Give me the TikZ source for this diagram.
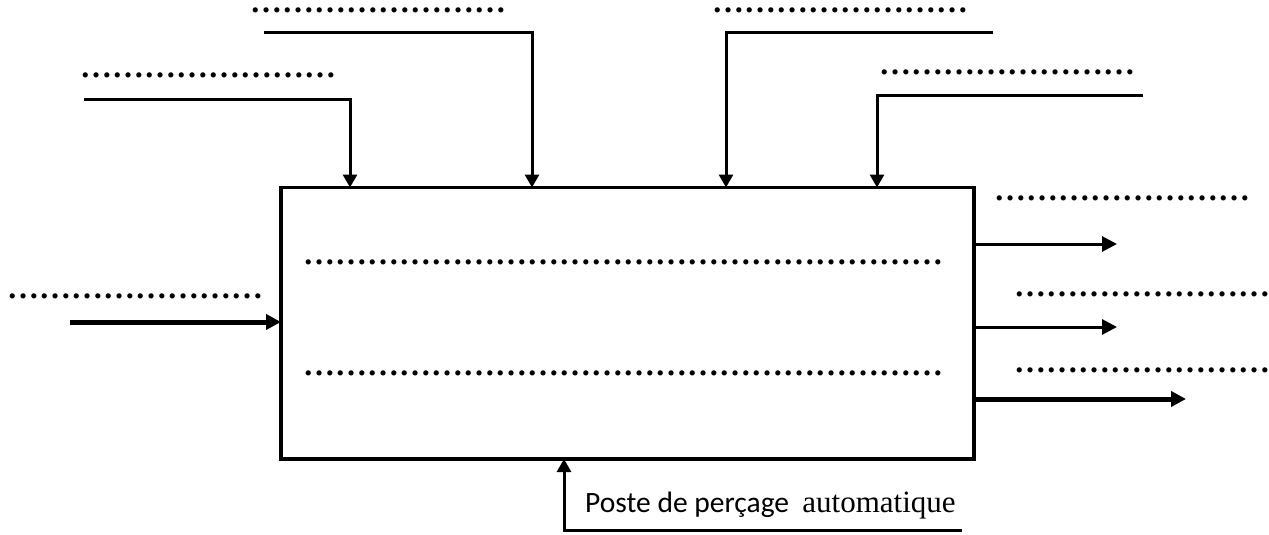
\documentclass[tikz,border=0pt]{standalone}
\usepackage{fontspec}
\setmainfont{Liberation Serif}
\newfontfamily\calfont{Carlito}
\usetikzlibrary{arrows.meta}
\newcommand\myells[1]{\foreach \ii in {1,...,#1}{…}}
\tikzset{
  frame/.style={draw,line width=3.2pt,minimum width=693pt,minimum height=271.5pt,inner sep=0pt,outer sep=0pt},
  ctrl/.style={line width=3pt,-{Triangle[length=13pt,width=14pt]}},
  outarrow/.style={line width=3pt,-{Triangle[length=15pt,width=15pt]}},
  thickarrow/.style={line width=5pt,-{Triangle[length=15pt,width=15pt]}},
  dotrow/.style={anchor=base west,inner sep=0pt,font=\fontsize{32}{32}\selectfont\bfseries},
  lbl/.style={anchor=base west,inner sep=0pt}
}
\begin{document}
\begin{tikzpicture}[x=1pt,y=-1pt]
\useasboundingbox (0,0) rectangle (1269,535);
% main box
\node[frame] (box) at (627.5,323.25) {};
% placeholder texts
\node[dotrow] (tA) at (80,77.6) {\myells{8}};
\node[dotrow] (tB) at (250,12.6) {\myells{8}};
\node[dotrow] (tC) at (712,12.6) {\myells{8}};
\node[dotrow] (tD) at (879,74.6) {\myells{8}};
\node[dotrow] (tE) at (7,298.6) {\myells{8}};
\node[dotrow] (tF) at (994,200.6) {\myells{8}};
\node[dotrow] (tG) at (1014,296.6) {\myells{8}};
\node[dotrow] (tH) at (1014,372.6) {\myells{8}};
\node[dotrow] (tI1) at (303,264.6) {\myells{20}};
\node[dotrow] (tI2) at (303,375.6) {\myells{20}};
% control arrows
\coordinate (cA) at (84,99);   \coordinate (kA) at (350,0);
\coordinate (cB) at (264,33);  \coordinate (kB) at (532,0);
\coordinate (cC) at (993,33);  \coordinate (kC) at (726,0);
\coordinate (cD) at (1143,95); \coordinate (kD) at (877,0);
\draw[ctrl] (cA) -| (kA |- box.north);
\draw[ctrl] (cB) -| (kB |- box.north);
\draw[ctrl] (cC) -| (kC |- box.north);
\draw[ctrl] (cD) -| (kD |- box.north);
% input
\coordinate (iE) at (70,322);
\draw[thickarrow] (iE) -- (iE -| box.west);
% outputs
\coordinate (oF) at (1117,244);
\coordinate (oG) at (1117,327);
\coordinate (oH) at (1186,399);
\draw[outarrow] (oF -| box.east) -- (oF);
\draw[outarrow] (oG -| box.east) -- (oG);
\draw[thickarrow] (oH -| box.east) -- (oH);
% mechanism
\coordinate (mS) at (962,530);
\coordinate (mK) at (564,0);
\draw[ctrl] (mS) -| (mK |- box.south);
\node[lbl] (mech) at (585,512) {{\calfont\fontsize{29.5}{34}\selectfont Poste de perçage\ \ }{\fontsize{31}{36}\selectfont automatique}};
\end{tikzpicture}
\end{document}
